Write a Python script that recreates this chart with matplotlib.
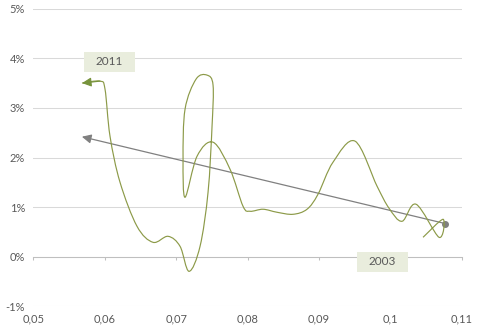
import numpy as np
import matplotlib
matplotlib.use("Agg")
import matplotlib.pyplot as plt
from matplotlib.path import Path
from matplotlib.patches import PathPatch, Rectangle
from matplotlib.ticker import FuncFormatter, FixedLocator

plt.rcParams['font.family'] = ['Lato', 'DejaVu Sans']

# path of the series, 2003 -> 2011 (x rate, y change)
rate = [0.10458, 0.10738, 0.10682, 0.10360, 0.10164, 0.09982, 0.09814, 0.09506,
        0.09197, 0.08987, 0.08833, 0.08637, 0.08413, 0.08217, 0.08035, 0.07937,
        0.07755, 0.07517, 0.07293, 0.07125, 0.07097, 0.07125, 0.07279, 0.07433,
        0.07517, 0.07503, 0.07447, 0.07335, 0.07181, 0.07055, 0.06887, 0.06676,
        0.06452, 0.06214, 0.06074, 0.06004, 0.05934, 0.05682]
change = [0.00388, 0.00752, 0.00388, 0.01056, 0.00712, 0.00975, 0.01420, 0.02330,
          0.01905, 0.01258, 0.00955, 0.00853, 0.00894, 0.00955, 0.00914, 0.01015,
          0.01763, 0.02309, 0.02026, 0.01197, 0.01966, 0.02977, 0.03583, 0.03664,
          0.03462, 0.02633, 0.01298, 0.00206, -0.00299, 0.00206, 0.00408, 0.00287,
          0.00611, 0.01501, 0.02431, 0.03381, 0.03543, 0.03503]

# trend arrow
trend_x = [0.1077, 0.0568]
trend_y = [0.00665, 0.0242]

# year labels
labels = ["2011", "2003"]
label_x = [0.06067, 0.09891]
label_y = [0.0393, -0.00107]

x_ticks = [0.05, 0.06, 0.07, 0.08, 0.09, 0.10, 0.11]
y_ticks = [-0.01, 0.0, 0.01, 0.02, 0.03, 0.04, 0.05]

GREEN = '#8c9a48'
GREY = '#808080'
TEXT = '#595959'


def smooth_path(xs, ys):
    # excel-like smoothed line: catmull-rom as cubic bezier
    pts = np.column_stack([xs, ys])
    ext = np.vstack([pts[0], pts, pts[-1]])
    verts = [pts[0]]
    codes = [Path.MOVETO]
    for i in range(len(pts) - 1):
        p0, p1, p2, p3 = ext[i], ext[i + 1], ext[i + 2], ext[i + 3]
        verts += [p1 + (p2 - p0) / 6, p2 - (p3 - p1) / 6, p2]
        codes += [Path.CURVE4] * 3
    return Path(verts, codes)


fig = plt.figure(figsize=(4.78, 3.28), dpi=100)
ax = fig.add_axes([0.0697, 0.067, 0.8963, 0.9056])

ax.set_xlim(0.05, 0.11)
ax.set_ylim(-0.01, 0.05)

ax.yaxis.set_major_locator(FixedLocator(y_ticks))
ax.xaxis.set_major_locator(FixedLocator(x_ticks))
ax.grid(axis='y', color='#d9d9d9', linewidth=0.75)
ax.set_axisbelow(True)

for s in ['left', 'right', 'top']:
    ax.spines[s].set_visible(False)
ax.spines['bottom'].set_position(('data', 0))
ax.spines['bottom'].set_color('#bfbfbf')
ax.spines['bottom'].set_linewidth(0.75)
ax.tick_params(axis='x', direction='out', length=2.5, color='#bfbfbf',
               width=0.75, labelbottom=False)
ax.tick_params(axis='y', length=0, pad=6, labelsize=8, labelcolor=TEXT)
ax.yaxis.set_major_formatter(FuncFormatter(lambda v, p: f"{v * 100:.0f}%"))

sec = ax.secondary_xaxis('bottom')
sec.xaxis.set_major_locator(FixedLocator(x_ticks))
sec.xaxis.set_major_formatter(FuncFormatter(lambda v, p: f"{round(v, 3):g}".replace('.', ',')))
sec.tick_params(length=0, pad=5, labelsize=8, labelcolor=TEXT)
sec.spines['bottom'].set_visible(False)

# trend arrow with round start
ax.plot(trend_x[0], trend_y[0], 'o', color=GREY, markersize=4, zorder=4)
ax.annotate('', xy=(trend_x[1], trend_y[1]), xytext=(trend_x[0], trend_y[0]),
            arrowprops=dict(arrowstyle='-|>,head_length=0.55,head_width=0.27',
                            color=GREY, lw=0.9, shrinkA=0, shrinkB=0), zorder=4)

# smoothed series
ax.add_patch(PathPatch(smooth_path(rate, change), fill=False, edgecolor=GREEN,
                       linewidth=0.85, zorder=5))
ax.annotate('', xy=(rate[-1], change[-1]), xytext=(rate[-2], change[-2]),
            arrowprops=dict(arrowstyle='-|>,head_length=0.55,head_width=0.27',
                            color='#77933c', lw=0.85, shrinkA=0, shrinkB=0), zorder=5)

# year label boxes
bw, bh = 0.00714, 0.00404
for t, lx, ly in zip(labels, label_x, label_y):
    ax.add_patch(Rectangle((lx - bw / 2, ly - bh / 2), bw, bh, facecolor='#e9eddd',
                           edgecolor='none', zorder=6))
    ax.text(lx, ly, t, ha='center', va='center', fontsize=8.5, color=TEXT, zorder=7)

fig.savefig('out.png', dpi=100)
